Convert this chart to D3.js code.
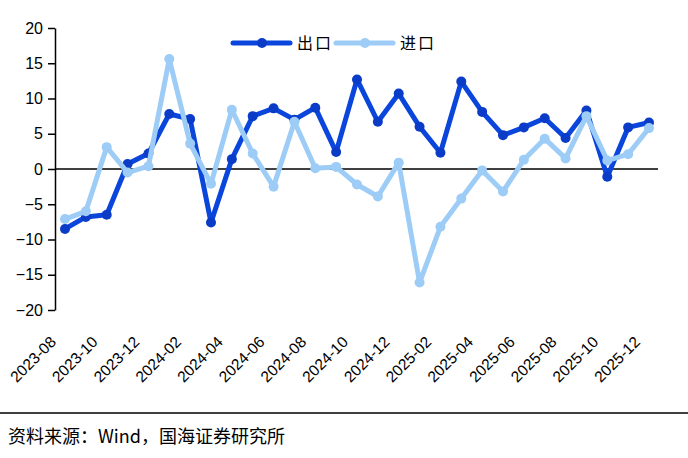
<!DOCTYPE html>
<html>
<head>
  <meta charset="utf-8">
  <script src="https://d3js.org/d3.v7.min.js"></script>
  <style>
    body { margin: 0; background: #fff; }
    text { font-family: "Liberation Sans", Arial, sans-serif; }
    .cjk { font-family: "Noto Sans CJK SC", sans-serif; }
  </style>
</head>
<body>
  <script>
    // months 2023-08 .. 2025-12
    const months = ["2023-08","2023-09","2023-10","2023-11","2023-12","2024-01","2024-02","2024-03",
      "2024-04","2024-05","2024-06","2024-07","2024-08","2024-09","2024-10","2024-11","2024-12",
      "2025-01","2025-02","2025-03","2025-04","2025-05","2025-06","2025-07","2025-08","2025-09",
      "2025-10","2025-11","2025-12"];
    const exportVals = [-8.5,-6.8,-6.5,0.7,2.2,7.8,7.1,-7.6,1.4,7.5,8.6,7.0,8.7,2.4,12.7,6.7,10.7,
      6.0,2.3,12.4,8.1,4.8,5.9,7.2,4.4,8.3,-1.1,5.9,6.6];
    const importVals = [-7.1,-6.0,3.1,-0.5,0.4,15.6,3.6,-2.1,8.4,2.2,-2.5,6.7,0.1,0.3,-2.2,-3.9,0.9,
      -16.1,-8.2,-4.2,-0.2,-3.2,1.3,4.3,1.5,7.5,1.2,2.1,5.8];
    const yTicks = [20,15,10,5,0,-5,-10,-15,-20];
    const xLabels = months.filter((m, i) => i % 2 === 0);

    const width = 688, height = 458;
    const svg = d3.select("body").append("svg")
      .attr("width", width).attr("height", height);

    const x = d3.scalePoint().domain(months).range([65, 649]);
    const y = d3.scaleLinear().domain([-20, 20]).range([310, 28]);

    // y axis
    const yAxis = svg.append("g")
      .attr("transform", "translate(55,0)")
      .call(d3.axisLeft(y).tickValues(yTicks).tickSize(7).tickSizeOuter(0).tickPadding(5));
    yAxis.select(".domain").attr("stroke", "#000").attr("stroke-width", 1.5);
    yAxis.selectAll(".tick line").attr("stroke", "#000").attr("stroke-width", 1.5);
    yAxis.selectAll(".tick text").attr("font-size", 16).attr("fill", "#000");

    // zero line
    svg.append("line")
      .attr("x1", 55).attr("x2", 658)
      .attr("y1", y(0)).attr("y2", y(0))
      .attr("stroke", "#000").attr("stroke-width", 1.5);

    // x labels
    svg.append("g").selectAll("text")
      .data(xLabels)
      .join("text")
      .attr("transform", d => `translate(${x(d) - 8},${343}) rotate(-45)`)
      .attr("text-anchor", "end")
      .attr("font-size", 15.5)
      .attr("fill", "#000")
      .text(d => d);

    const series = [
      { name: "出口", values: exportVals, line: "#0b46dc", dot: "#0a3cc8" },
      { name: "进口", values: importVals, line: "#9dccf6", dot: "#9dccf6" }
    ];

    const line = d3.line().x((d, i) => x(months[i])).y(d => y(d));

    series.forEach(s => {
      const g = svg.append("g");
      g.append("path")
        .attr("d", line(s.values))
        .attr("fill", "none")
        .attr("stroke", s.line)
        .attr("stroke-width", 5)
        .attr("stroke-linejoin", "round");
      g.selectAll("circle")
        .data(s.values)
        .join("circle")
        .attr("cx", (d, i) => x(months[i]))
        .attr("cy", d => y(d))
        .attr("r", 5)
        .attr("fill", s.dot);
    });

    // legend
    const legend = svg.append("g");
    const legendX = [233, 336];
    series.forEach((s, i) => {
      const lx = legendX[i];
      legend.append("line")
        .attr("x1", lx).attr("x2", lx + 57)
        .attr("y1", 43).attr("y2", 43)
        .attr("stroke", s.line).attr("stroke-width", 5)
        .attr("stroke-linecap", "round");
      legend.append("circle")
        .attr("cx", lx + 29).attr("cy", 43).attr("r", 5).attr("fill", s.dot);
      legend.append("text")
        .attr("class", "cjk")
        .attr("x", lx + 64).attr("y", 49)
        .attr("font-size", 16)
        .attr("letter-spacing", 2)
        .attr("fill", "#000")
        .text(s.name);
    });

    // separator and source
    svg.append("line")
      .attr("x1", 0).attr("x2", width)
      .attr("y1", 413).attr("y2", 413)
      .attr("stroke", "#000").attr("stroke-width", 1.5);
    svg.append("text")
      .attr("class", "cjk")
      .attr("x", 8).attr("y", 443)
      .attr("font-size", 18)
      .attr("fill", "#000")
      .text("资料来源：Wind，国海证券研究所");
  </script>
</body>
</html>
